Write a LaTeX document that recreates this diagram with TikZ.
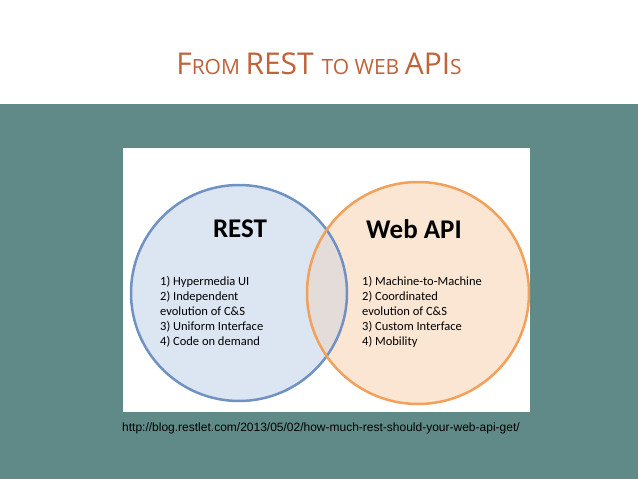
\documentclass[tikz,border=0pt]{standalone}
\usepackage{fontspec}
\setmainfont{Carlito}
\newfontfamily\urlfont{Liberation Sans}
\newfontfamily\titlefont{Open Sans}
\definecolor{teal}{HTML}{5F8A87}
\definecolor{titlered}{HTML}{C0623A}
\definecolor{restfill}{HTML}{DCE5F2}
\definecolor{restline}{HTML}{6F92C2}
\definecolor{apifill}{HTML}{FBE6D4}
\definecolor{apiline}{HTML}{F2A05A}
\begin{document}
\begin{tikzpicture}[x=1pt,y=-1pt,
  heading/.style={font=\bfseries\fontsize{27}{30}\selectfont},
  items/.style={align=left,anchor=north west,font=\fontsize{12.5}{15}\selectfont,inner sep=0pt}]

  \useasboundingbox (0,0) rectangle (638,479);
  \fill[white] (0,0) rectangle (638,104);
  \fill[teal] (0,104) rectangle (638,479);
  \node[text=titlered, font=\titlefont] (title) at (319,64)
    {\fontsize{30}{34}\selectfont F\fontsize{21}{24}\selectfont ROM \fontsize{30}{34}\selectfont REST \fontsize{21}{24}\selectfont TO WEB \fontsize{30}{34}\selectfont API\fontsize{21}{24}\selectfont S};

  \fill[white] (123,148) rectangle (530,412);

  \fill[restfill] (239,293) circle [radius=108];
  \fill[apifill] (418,293) circle [radius=111];
  \begin{scope}
    \clip (239,293) circle [radius=108];
    \fill[fill=black!8!restfill!50!apifill] (418,293) circle [radius=111];
  \end{scope}
  \draw[restline, line width=2.5] (239,293) circle [radius=108];
  \draw[apiline, line width=2.5] (418,293) circle [radius=111];

  \node[heading] (rest) at (240,229) {REST};
  \node[heading] (webapi) at (414,229) {Web API};

  \node[items] (restlist) at (160,276) {1) Hypermedia UI\\2) Independent\\evolution of C\&S\\3) Uniform Interface\\4) Code on demand};
  \node[items] (apilist) at (362,276) {1) Machine-to-Machine\\2) Coordinated\\evolution of C\&S\\3) Custom Interface\\4) Mobility};

  \node[anchor=west, inner sep=0pt, font=\urlfont\fontsize{12}{14}\selectfont] (url) at (122,428)
    {http://blog.restlet.com/2013/05/02/how-much-rest-should-your-web-api-get/};

\end{tikzpicture}
\end{document}
